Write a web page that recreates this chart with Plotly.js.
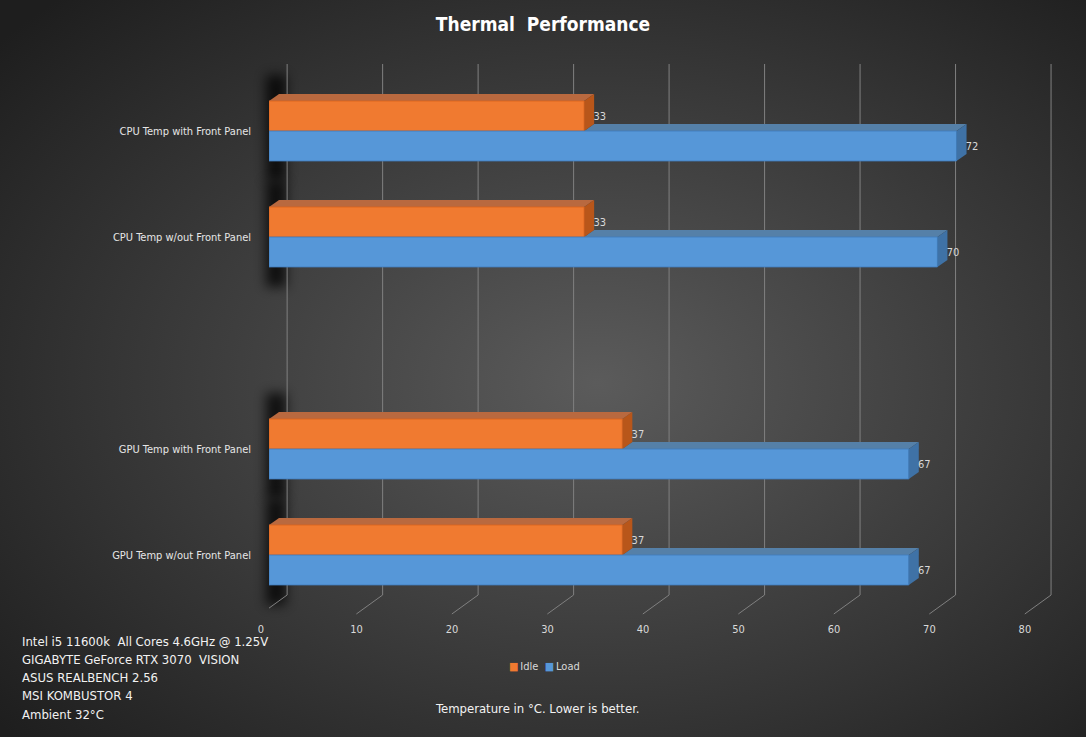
<!DOCTYPE html>
<html>
<head>
<meta charset="utf-8">
<script src="https://cdn.plot.ly/plotly-3.0.1.min.js"></script>
<style>html,body{margin:0;padding:0;background:#2a2a2a;}#chart{width:1086px;height:737px;}</style>
</head>
<body>
<div id="chart"></div>
<script>
// ---- data ----
const categories = ['CPU Temp with Front Panel', 'CPU Temp w/out Front Panel', ' ', 'GPU Temp with Front Panel', 'GPU Temp w/out Front Panel'];
const idleValues = [33, 33, null, 37, 37];
const loadValues = [72, 70, null, 67, 67];
const seriesNames = ['Idle', 'Load'];
const xTickValues = [0, 10, 20, 30, 40, 50, 60, 70, 80];
const noteLines = ['Intel i5 11600k&nbsp; All Cores 4.6GHz @ 1.25V', 'GIGABYTE GeForce RTX 3070&nbsp; VISION', 'ASUS REALBENCH 2.56', 'MSI KOMBUSTOR 4', 'Ambient 32°C'];
const footerText = 'Temperature in °C. Lower is better.';
const titleText = 'Thermal&nbsp; Performance';

// ---- style ----
const FONT = "'Liberation Sans Narrow', 'DejaVu Sans Condensed', 'DejaVu Sans', sans-serif";
const ORANGE = '#f07a30', ORANGE_TOP = '#b9693f', ORANGE_SIDE = '#b8561a';
const BLUE = '#5697d8', BLUE_TOP = '#5580a8', BLUE_SIDE = '#3f72a6';
const BAR_W = 0.283;          // each bar thickness in category units
const DX = 1.05, DY = 0.066;  // 3-D depth offsets (data units)
const GRID_BACK = 1.9, GRID_FRONT = -0.85;
const PLOT_L = 269, PLOT_W = 783, PLOT_T = 78, PLOT_H = 530;
const BAND = PLOT_H / categories.length;
const px2paperX = p => (p - PLOT_L) / PLOT_W;
const px2paperY = p => (PLOT_T + PLOT_H - p) / PLOT_H;

// background picture: radial gradient + soft wall shadows behind each bar group
let shadowRects = '';
categories.forEach((c, i) => {
  if (idleValues[i] == null) return;
  const cy = PLOT_T + (i + 0.5) * BAND;
  const half = BAR_W * BAND;
  shadowRects += `<rect x="266" y="${cy - half - 26}" width="20" height="${2 * half + 46}" fill="#000" opacity="0.75" filter="url(#b)"/>`;
});
const bgSvg = `<svg xmlns="http://www.w3.org/2000/svg" width="1086" height="737" viewBox="0 0 1086 737">
<defs><radialGradient id="g" cx="0.55" cy="0.52" r="0.72"><stop offset="0" stop-color="#5b5b5b"/><stop offset="1" stop-color="#1e1e1e"/></radialGradient>
<filter id="b" x="-1" y="-0.5" width="3" height="2"><feGaussianBlur stdDeviation="6"/></filter></defs>
<rect width="1086" height="737" fill="url(#g)"/>
${shadowRects}
</svg>`;
const bgUri = 'data:image/svg+xml;charset=utf-8,' + encodeURIComponent(bgSvg);

const shapes = [];
// back-wall gridlines + floor slants
xTickValues.forEach(t => {
  shapes.push({type: 'line', xref: 'x', yref: 'paper', x0: t + GRID_BACK, x1: t + GRID_BACK, y0: 0.0245, y1: 1.0264,
    line: {color: '#808080', width: 1}, layer: 'below'});
  shapes.push({type: 'line', xref: 'x', yref: 'paper', x0: t + GRID_BACK, x1: t + GRID_FRONT, y0: 0.0245, y1: -0.0113,
    line: {color: '#808080', width: 1}, layer: 'below'});
});
// 3-D faces of bars
categories.forEach((c, i) => {
  const vo = idleValues[i], vb = loadValues[i];
  if (vo == null || vb == null) return;
  const oTop = i - BAR_W, oBot = i, bTop = i, bBot = i + BAR_W;
  shapes.push({type: 'path', xref: 'x', yref: 'y', layer: 'below', line: {width: 0}, fillcolor: BLUE_TOP,
    path: `M ${vo},${bTop} L ${vb},${bTop} L ${vb + DX},${bTop - DY} L ${vo + DX},${bTop - DY} Z`});
  shapes.push({type: 'path', xref: 'x', yref: 'y', layer: 'below', line: {width: 0}, fillcolor: BLUE_SIDE,
    path: `M ${vb},${bTop} L ${vb + DX},${bTop - DY} L ${vb + DX},${bBot - DY} L ${vb},${bBot} Z`});
  shapes.push({type: 'path', xref: 'x', yref: 'y', layer: 'below', line: {width: 0}, fillcolor: ORANGE_TOP,
    path: `M 0,${oTop} L ${vo},${oTop} L ${vo + DX},${oTop - DY} L ${DX},${oTop - DY} Z`});
  shapes.push({type: 'path', xref: 'x', yref: 'y', layer: 'below', line: {width: 0}, fillcolor: ORANGE_SIDE,
    path: `M ${vo},${oTop} L ${vo + DX},${oTop - DY} L ${vo + DX},${oBot - DY} L ${vo},${oBot} Z`});
});

const traces = [
  {type: 'bar', orientation: 'h', name: seriesNames[0], y: categories, x: idleValues,
   marker: {color: ORANGE, line: {color: '#d8621c', width: 0.8}},
   texttemplate: '\u00a0\u00a0%{x}', textposition: 'outside', cliponaxis: false,
   textfont: {family: FONT, size: 11, color: '#d9d9d9'}, hoverinfo: 'x+y'},
  {type: 'bar', orientation: 'h', name: seriesNames[1], y: categories, x: loadValues,
   marker: {color: BLUE, line: {color: '#3f7cbd', width: 0.8}},
   texttemplate: '\u00a0\u00a0%{x}', textposition: 'outside', cliponaxis: false,
   textfont: {family: FONT, size: 11, color: '#d9d9d9'}, hoverinfo: 'x+y'}
];

const annotations = [];
noteLines.forEach((line, i) => {
  annotations.push({text: line, xref: 'paper', yref: 'paper', x: px2paperX(20), y: px2paperY(641 + i * 18.3),
    xanchor: 'left', yanchor: 'middle', align: 'left', showarrow: false,
    font: {family: FONT, size: 13, color: '#f2f2f2'}});
});
annotations.push({text: footerText, xref: 'paper', yref: 'paper', x: px2paperX(537), y: px2paperY(708),
  xanchor: 'center', yanchor: 'middle', showarrow: false, font: {family: FONT, size: 13, color: '#f2f2f2'}});
// legend (compact, like the original)
annotations.push({text: `<span style="color:${ORANGE}">■</span>\u2009${seriesNames[0]}&nbsp;&nbsp;<span style="color:${BLUE}">■</span>\u2009${seriesNames[1]}`,
  xref: 'paper', yref: 'paper', x: px2paperX(544), y: px2paperY(666), xanchor: 'center', yanchor: 'middle',
  showarrow: false, font: {family: FONT, size: 11, color: '#d9d9d9'}});

const layout = {
  width: 1086, height: 737,
  margin: {l: PLOT_L, r: 1086 - PLOT_L - PLOT_W, t: PLOT_T, b: 737 - PLOT_T - PLOT_H},
  paper_bgcolor: '#2a2a2a', plot_bgcolor: 'rgba(0,0,0,0)',
  font: {family: FONT, color: '#d9d9d9', size: 11},
  title: {text: titleText, x: 0.5, xref: 'container', y: 0.967, yref: 'container', yanchor: 'middle',
    font: {family: FONT, size: 19, color: '#ffffff', weight: 'bold'}},
  barmode: 'group', bargap: 0.434, bargroupgap: 0,
  xaxis: {range: [0, 82], tickvals: xTickValues, showgrid: false, zeroline: false, showline: false,
    ticks: '', ticklabelshift: -8, ticklabelstandoff: 13, tickfont: {family: FONT, size: 11, color: '#d9d9d9'}},
  yaxis: {type: 'category', categoryorder: 'array', categoryarray: categories,
    range: [categories.length - 0.5, -0.5], autorange: false,
    showgrid: false, zeroline: false, showline: false, ticks: '', ticklabelstandoff: 17,
    tickfont: {family: FONT, size: 11, color: '#e6e6e6'}},
  showlegend: false,
  shapes: shapes,
  images: [{source: bgUri, xref: 'paper', yref: 'paper', x: px2paperX(0), y: px2paperY(0),
    sizex: 1086 / PLOT_W, sizey: 737 / PLOT_H, xanchor: 'left', yanchor: 'top', sizing: 'stretch', layer: 'below'}],
  annotations: annotations
};

Plotly.newPlot('chart', traces, layout, {displayModeBar: false, staticPlot: true});
</script>
</body>
</html>
